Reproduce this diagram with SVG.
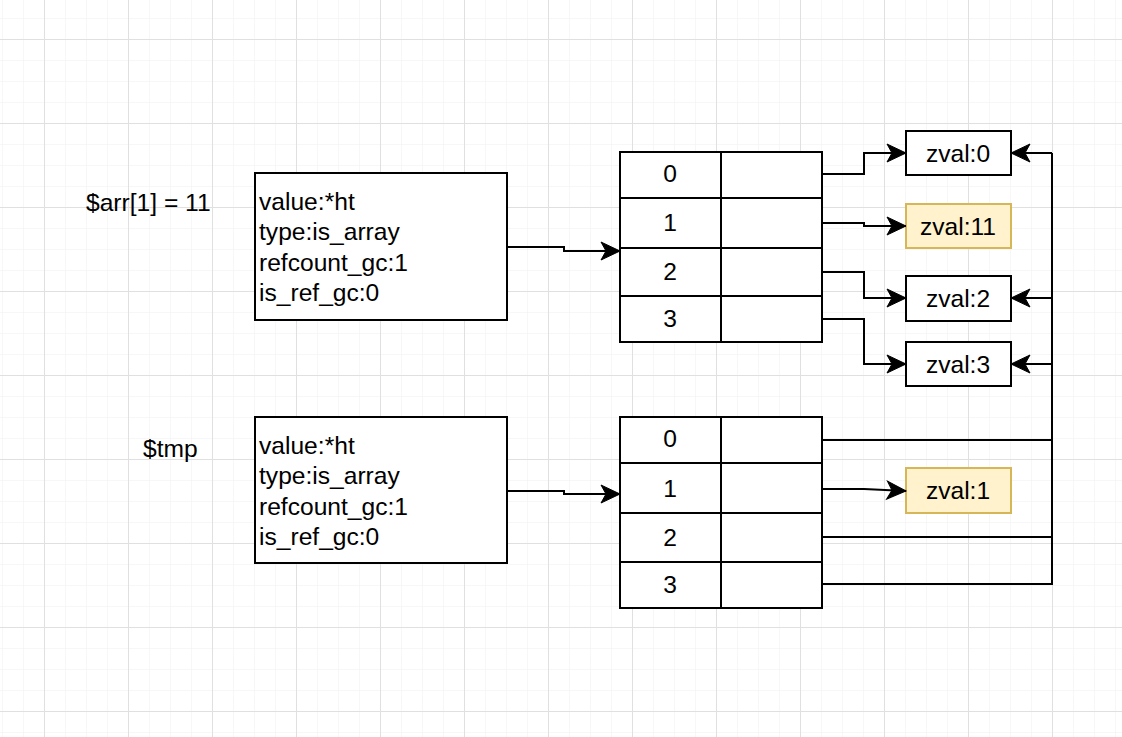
<svg xmlns="http://www.w3.org/2000/svg" width="1122" height="737" viewBox="0 0 1122 737">
<style>
.box{fill:#ffffff;stroke:#000000;stroke-width:2}
.yel{fill:#fff2cc;stroke:#d6b656;stroke-width:2}
.t{font-family:"Liberation Sans",Arial,sans-serif;font-size:24.6px;fill:#000000}
.c{text-anchor:middle}
.edge{fill:none;stroke:#000000;stroke-width:2}
.arr{marker-end:url(#ah)}
</style>
<defs>
<pattern id="minor" width="21" height="21" patternUnits="userSpaceOnUse" x="2" y="18">
<path d="M0,0 H21 M0,0 V21" fill="none" stroke="#f0f0f0" stroke-width="1"/>
</pattern>
<pattern id="major" width="84" height="84" patternUnits="userSpaceOnUse" x="44" y="39">
<path d="M0,0.5 H84 M0.5,0 V84" fill="none" stroke="#e0e0e0" stroke-width="1"/>
</pattern>
<marker id="ah" markerUnits="userSpaceOnUse" markerWidth="24" markerHeight="24" refX="21" refY="12" orient="auto" viewBox="0 0 24 24">
<path d="M21,12 L2,3 L7,12 L2,21 Z" fill="#000000" stroke="#000000" stroke-width="1"/>
</marker>
</defs>
<rect width="1122" height="737" fill="#ffffff"/>
<rect width="1122" height="737" fill="url(#minor)"/>
<rect width="1122" height="737" fill="url(#major)"/>

<g id="label-arr"><text class="t" x="86" y="211">$arr[1] = 11</text></g>
<g id="label-tmp"><text class="t" x="143" y="457">$tmp</text></g>

<g id="zval-struct-1">
<rect class="box" x="255" y="173" width="252" height="147"/>
<text class="t" x="259" y="210">value:*ht</text>
<text class="t" x="259" y="240">type:is_array</text>
<text class="t" x="259" y="271">refcount_gc:1</text>
<text class="t" x="259" y="301">is_ref_gc:0</text>
</g>
<g id="zval-struct-2">
<rect class="box" x="255" y="417" width="252" height="146"/>
<text class="t" x="259" y="454">value:*ht</text>
<text class="t" x="259" y="484">type:is_array</text>
<text class="t" x="259" y="515">refcount_gc:1</text>
<text class="t" x="259" y="545">is_ref_gc:0</text>
</g>

<g id="table-1">
<rect class="box" x="620" y="152" width="101" height="46"/><rect class="box" x="721" y="152" width="101" height="46"/>
<rect class="box" x="620" y="198" width="101" height="50"/><rect class="box" x="721" y="198" width="101" height="50"/>
<rect class="box" x="620" y="248" width="101" height="48"/><rect class="box" x="721" y="248" width="101" height="48"/>
<rect class="box" x="620" y="296" width="101" height="46"/><rect class="box" x="721" y="296" width="101" height="46"/>
<text class="t c" x="670" y="182">0</text>
<text class="t c" x="670" y="231">1</text>
<text class="t c" x="670" y="280">2</text>
<text class="t c" x="670" y="327">3</text>
</g>
<g id="table-2">
<rect class="box" x="620" y="417" width="101" height="46"/><rect class="box" x="721" y="417" width="101" height="46"/>
<rect class="box" x="620" y="463" width="101" height="50"/><rect class="box" x="721" y="463" width="101" height="50"/>
<rect class="box" x="620" y="513" width="101" height="49"/><rect class="box" x="721" y="513" width="101" height="49"/>
<rect class="box" x="620" y="562" width="101" height="46"/><rect class="box" x="721" y="562" width="101" height="46"/>
<text class="t c" x="670" y="447">0</text>
<text class="t c" x="670" y="497">1</text>
<text class="t c" x="670" y="546">2</text>
<text class="t c" x="670" y="593">3</text>
</g>

<g id="zval-0"><rect class="box" x="906" y="131" width="105" height="44"/><text class="t c" x="958" y="162">zval:0</text></g>
<g id="zval-11"><rect class="yel" x="906" y="204" width="105" height="44"/><text class="t c" x="958" y="235">zval:11</text></g>
<g id="zval-2"><rect class="box" x="906" y="276" width="105" height="45"/><text class="t c" x="958" y="307">zval:2</text></g>
<g id="zval-3"><rect class="box" x="906" y="342" width="105" height="44"/><text class="t c" x="958" y="373">zval:3</text></g>
<g id="zval-1"><rect class="yel" x="906" y="468" width="105" height="45"/><text class="t c" x="958" y="499">zval:1</text></g>

<g id="connectors">
<path class="edge arr" d="M507,247 H564 V251 H620"/>
<path class="edge arr" d="M507,491 H564 V494 H620"/>
<path class="edge arr" d="M822,174 H864 V153 H906"/>
<path class="edge arr" d="M822,223 H864 V226 H906"/>
<path class="edge arr" d="M822,272 H864 V298 H906"/>
<path class="edge arr" d="M822,319 H864 V364 H906"/>
<path class="edge arr" d="M822,489 H864 L906,491"/>
<path class="edge" d="M822,440 H1052 V153"/>
<path class="edge arr" d="M1052,153 H1011"/>
<path class="edge arr" d="M1052,298 H1011"/>
<path class="edge arr" d="M1052,364 H1011"/>
<path class="edge" d="M822,537 H1052 V440"/>
<path class="edge" d="M822,584 H1052 V537"/>
</g>
</svg>
